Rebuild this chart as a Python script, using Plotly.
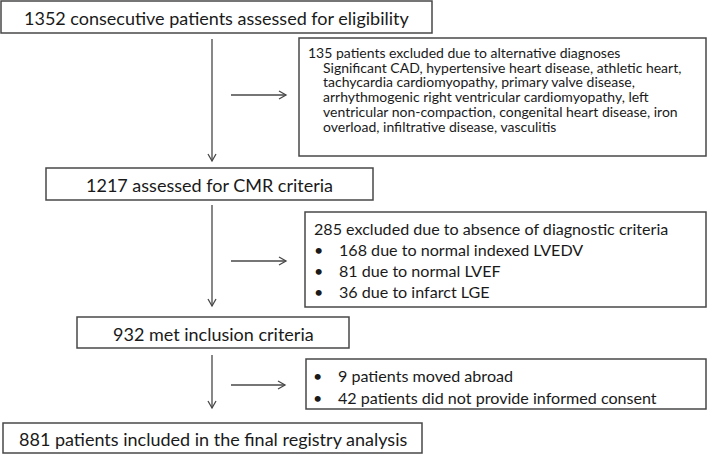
import plotly.graph_objects as go

# ---- content (text of the flow chart) ----
main_steps = [
    "1352 consecutive patients assessed for eligibility",
    "1217 assessed for CMR criteria",
    "932 met inclusion criteria",
    "881 patients included in the final registry analysis",
]
excl1_title = "135 patients excluded due to alternative diagnoses"
excl1_lines = [
    "Significant CAD, hypertensive heart disease, athletic heart,",
    "tachycardia cardiomyopathy, primary valve disease,",
    "arrhythmogenic right ventricular cardiomyopathy, left",
    "ventricular non-compaction, congenital heart disease, iron",
    "overload, infiltrative disease, vasculitis",
]
excl2_title = "285 excluded due to absence of diagnostic criteria"
excl2_bullets = [
    "168 due to normal indexed LVEDV",
    "81 due to normal LVEF",
    "36 due to infarct LGE",
]
excl3_bullets = [
    "9 patients moved abroad",
    "42 patients did not provide informed consent",
]

# ---- layout geometry (pixels) ----
W, H = 709, 455
main_boxes = [(1, 1, 432, 33), (46, 168, 373, 200), (77, 317, 349, 348), (3, 423, 422, 453)]
side_boxes = [(299, 38, 706, 156), (305, 212, 706, 307), (306, 359, 706, 409)]
v_arrows = [(212, 39, 161), (212, 205, 306), (212, 355, 408)]
h_arrows = [(95, 231, 286), (261, 231, 286), (385, 231, 285)]

FONT = "Lato, 'Open Sans', sans-serif"
TXT = "#1a1a1a"
LINE = "#484848"
BIG, MID, SMALL = 18.0, 16.1, 14.0

fig = go.Figure()
shapes = []
ann = []

for (x0, y0, x1, y1) in main_boxes + side_boxes:
    shapes.append(dict(type="rect", x0=x0, y0=y0, x1=x1, y1=y1,
                       line=dict(color=LINE, width=1.5), fillcolor="white"))

for (x, y0, y1) in v_arrows:
    shapes.append(dict(type="line", x0=x, y0=y0, x1=x, y1=y1, line=dict(color=LINE, width=1.3)))
    shapes.append(dict(type="path", path=f"M {x-4},{y1-7} L {x},{y1} L {x+4},{y1-7}",
                       line=dict(color=LINE, width=1.3)))
for (y, x0, x1) in h_arrows:
    shapes.append(dict(type="line", x0=x0, y0=y, x1=x1, y1=y, line=dict(color=LINE, width=1.3)))
    shapes.append(dict(type="path", path=f"M {x1-7},{y-4} L {x1},{y} L {x1-7},{y+4}",
                       line=dict(color=LINE, width=1.3)))

def text(x, y, s, size, anchor="left"):
    ann.append(dict(x=x, y=y, xref="x", yref="y", text=s, showarrow=False,
                    xanchor=anchor, yanchor="middle", borderpad=0,
                    font=dict(family=FONT, size=size, color=TXT)))

for (x0, y0, x1, y1), s in zip(main_boxes, main_steps):
    text((x0 + x1) / 2, (y0 + y1) / 2 + 1, s, BIG, "center")

# side box 1
text(307, 52, excl1_title, SMALL)
for i, s in enumerate(excl1_lines):
    text(322, 67 + i * 14.9, s, SMALL)

# side box 2
text(313, 228, excl2_title, MID)
for i, s in enumerate(excl2_bullets):
    text(313, 249 + i * 21, "•", MID)
    text(338, 249 + i * 21, s, MID)

# side box 3
for i, s in enumerate(excl3_bullets):
    text(312, 375 + i * 22, "•", MID)
    text(337, 375 + i * 22, s, MID)

fig.update_layout(
    width=W, height=H, margin=dict(l=0, r=0, t=0, b=0),
    paper_bgcolor="white", plot_bgcolor="white",
    xaxis=dict(range=[0, W], visible=False, fixedrange=True),
    yaxis=dict(range=[H, 0], visible=False, fixedrange=True),
    shapes=shapes, annotations=ann, showlegend=False,
)
fig.write_html("out.html", config={"displayModeBar": False},
               post_script="document.body.style.margin='0';document.body.style.overflow='hidden';")
